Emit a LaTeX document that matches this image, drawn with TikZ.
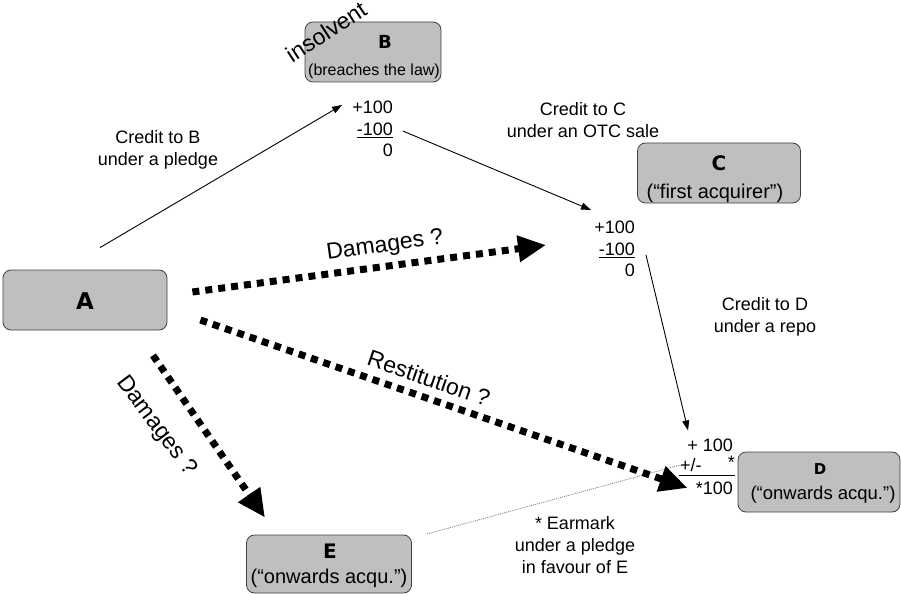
\documentclass[tikz,border=0pt]{standalone}
\usepackage{fontspec}
\setmainfont{Liberation Sans}
\newfontfamily\heavyfont{DejaVu Sans}
\usetikzlibrary{arrows.meta, positioning}

\begin{document}
\begin{tikzpicture}[x=1pt, y=-1pt,
    party/.style={draw=black!75, line width=0.8pt, fill=gray!50, rounded corners=8pt, inner sep=0pt},
    title/.style={inner sep=0pt, font=\heavyfont\bfseries\fontsize{#1}{#1}\selectfont},
    role/.style={inner sep=0pt, font=\fontsize{#1}{#1}\selectfont},
    ledger/.style={align=right, inner sep=0pt, font=\fontsize{18}{21.5}\selectfont},
    note/.style={align=center, inner sep=0pt, font=\fontsize{18}{22}\selectfont},
    claim/.style={line width=7pt, dash pattern=on 7pt off 6pt, -{Triangle[length=28pt 0 0,width=25pt 0 0]}},
    claimlabel/.style={inner sep=0pt, font=\fontsize{23}{26}\selectfont},
    credit/.style={line width=0.9pt, -{Triangle[length=10pt 0 0,width=7pt 0 0]}},
    earmark/.style={draw=gray, line width=0.8pt, dash pattern=on 1pt off 1pt}]
	\useasboundingbox (0,0) rectangle (901,596);
	% parties
	\node[party, minimum width=164pt, minimum height=60pt] (A) at (85,300) {};
	\node[party, minimum width=136pt, minimum height=60pt] (B) at (373,52) {};
	\node[party, minimum width=163pt, minimum height=60pt] (C) at (719,173) {};
	\node[party, minimum width=162pt, minimum height=60pt] (D) at (819,482) {};
	\node[party, minimum width=165pt, minimum height=58pt] (E) at (329,564) {};
	\node[title=23] (Aname) at (85,301) {A};
	\node[title=18] (Bname) at (385,42) {B};
	\node[title=20] (Cname) at (719,163) {C};
	\node[title=15] (Dname) at (820,469) {D};
	\node[title=20] (Ename) at (330,551) {E};
	\node[role=16] (Brole) at (374,71) {(breaches the law)};
	\node[role=20] (Crole) at (715,193) {(“first acquirer”)};
	\node[role=18.5] (Drole) at (823,495) {(“onwards acqu.”)};
	\node[role=20] (Erole) at (329,578) {(“onwards acqu.”)};
	\node[claimlabel, rotate=33] (insolv) at (326,32) {insolvent};
	% accounts
	\node[ledger, anchor=north east] (ledgerB) at (393,101) {+100\\\underline{-100}\\0};
	\node[ledger, anchor=north east] (ledgerC) at (635,221) {+100\\\underline{-100}\\0};
	\node[ledger, anchor=east] (dIn) at (733,445) {+ 100};
	\node[ledger, anchor=west] (dPm) at (680,465) {+/-};
	\node[ledger, anchor=east] (dStar) at (735,462) {*};
	\node[ledger, anchor=east] (dOut) at (733,488) {*100};
	\draw[line width=0.9pt] (679,475) -- (735,475);
	% credits
	\node[note] (noteB) at (158,150) {Credit to B\\under a pledge};
	\node[note] (noteC) at (583,120) {Credit to C\\under an OTC sale};
	\node[note] (noteD) at (765,317) {Credit to D\\under a repo};
	\node[note] (noteE) at (575,545) {* Earmark\\under a pledge\\in favour of E};
	\draw[credit] ([shift={(15pt,22pt)}]A.north) -- ([shift={(-10pt,-4pt)}]ledgerB.north west);
	\draw[credit] ([shift={(10pt,-2pt)}]ledgerB.east) -- ([shift={(-3pt,11pt)}]ledgerC.north west);
	\draw[credit] ([shift={(11pt,-6pt)}]ledgerC.east) -- ([shift={(-22pt,8pt)}]dIn.north);
	\draw[earmark] ([shift={(15pt,30pt)}]E.east) -- (dPm.west);
	% claims
	\draw[claim] ([shift={(25pt,8pt)}]A.east) -- ([shift={(-48pt,4pt)}]ledgerC.west);
	\draw[claim] ([shift={(33pt,-20pt)}]A.east) -- ([xshift=-8pt]dOut.west);
	\draw[claim] ([shift={(68pt,-25pt)}]A.south) -- ([shift={(-64pt,17pt)}]E.north);
	\node[claimlabel, rotate=8] (dmgC) at (385,246) {Damages ?};
	\node[claimlabel, rotate=-19] (restD) at (429,378) {Restitution ?};
	\node[claimlabel, rotate=-53] (dmgE) at (156,426) {Damages ?};
\end{tikzpicture}
\end{document}
